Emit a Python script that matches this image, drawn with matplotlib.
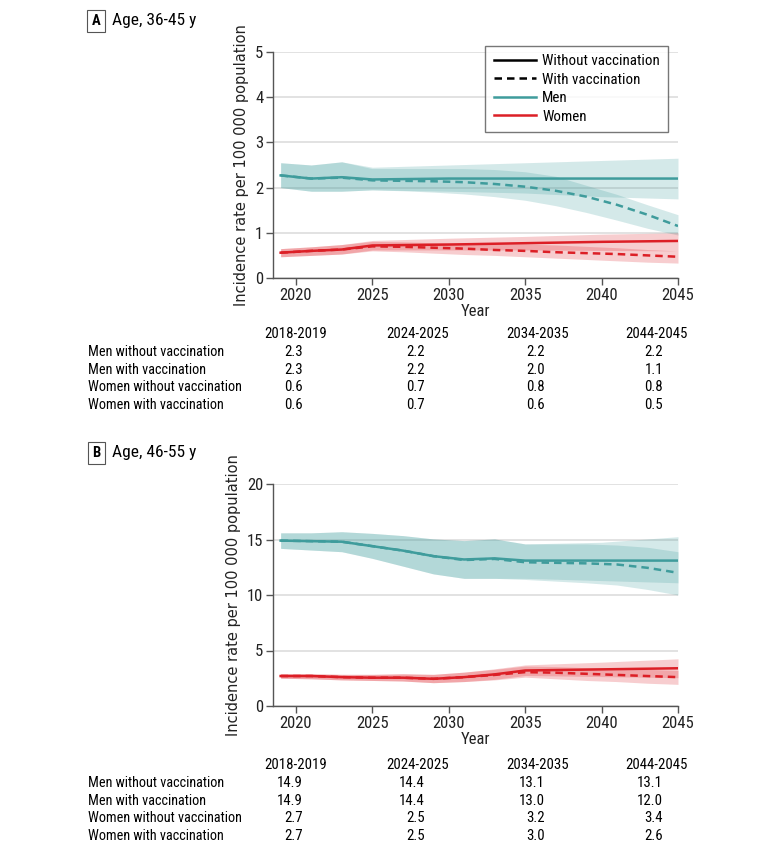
import matplotlib
matplotlib.use("Agg")
import matplotlib.pyplot as plt
from matplotlib.lines import Line2D
from matplotlib.font_manager import fontManager

# pick a condensed sans-serif if one is installed
COND, STRETCH = "Roboto", "normal"
_cands = []
for f in fontManager.ttflist:
    st = str(f.stretch)
    if f.style != 'normal':
        continue
    w = f.weight if isinstance(f.weight, int) else {'normal': 400, 'regular': 400, 'book': 400}.get(str(f.weight), 700)
    if w != 400:
        continue
    if 'Narrow' in f.name or 'Condensed' in f.name or 'condensed' in st:
        _cands.append(f)
_pref = ['Liberation Sans Narrow', 'Roboto Condensed', 'Open Sans Condensed', 'DejaVu Sans']
for p in _pref:
    hit = [f for f in _cands if f.name == p]
    if hit:
        COND, STRETCH = hit[0].name, hit[0].stretch
        break
else:
    if _cands:
        COND, STRETCH = _cands[0].name, _cands[0].stretch
plt.rcParams['font.family'] = [COND, 'DejaVu Sans']
plt.rcParams['font.stretch'] = STRETCH

TEAL = "#3f9c9c"
RED = "#dc1f26"

# ---------------- Panel A data ----------------
a_men_wo_x = [2019, 2021, 2023, 2025, 2030, 2035, 2040, 2045]
a_men_wo_y = [2.27, 2.20, 2.23, 2.18, 2.20, 2.20, 2.20, 2.20]
a_men_wo_lo = [2.00, 1.92, 1.92, 1.95, 1.92, 1.88, 1.80, 1.75]
a_men_wo_hi = [2.55, 2.50, 2.57, 2.45, 2.50, 2.55, 2.60, 2.65]

a_men_w_x = [2019, 2021, 2023, 2025, 2027, 2029, 2031, 2033, 2035, 2037, 2039, 2041, 2043, 2045]
a_men_w_y = [2.27, 2.20, 2.22, 2.16, 2.15, 2.14, 2.12, 2.08, 2.02, 1.93, 1.80, 1.62, 1.40, 1.15]
a_men_w_lo = [2.00, 1.92, 1.92, 1.95, 1.93, 1.90, 1.86, 1.80, 1.72, 1.60, 1.45, 1.28, 1.10, 0.95]
a_men_w_hi = [2.55, 2.50, 2.57, 2.42, 2.42, 2.42, 2.42, 2.40, 2.35, 2.25, 2.05, 1.85, 1.62, 1.40]

a_wom_wo_x = [2019, 2021, 2023, 2025, 2030, 2035, 2040, 2045]
a_wom_wo_y = [0.56, 0.60, 0.63, 0.72, 0.74, 0.77, 0.80, 0.82]
a_wom_wo_lo = [0.47, 0.50, 0.53, 0.62, 0.62, 0.62, 0.61, 0.60]
a_wom_wo_hi = [0.65, 0.69, 0.74, 0.83, 0.88, 0.92, 0.97, 1.00]

a_wom_w_x = [2019, 2021, 2023, 2025, 2027, 2029, 2031, 2033, 2035, 2037, 2039, 2041, 2043, 2045]
a_wom_w_y = [0.56, 0.60, 0.63, 0.70, 0.69, 0.67, 0.65, 0.62, 0.60, 0.57, 0.55, 0.53, 0.50, 0.47]
a_wom_w_lo = [0.47, 0.50, 0.53, 0.60, 0.58, 0.55, 0.52, 0.50, 0.47, 0.44, 0.41, 0.38, 0.35, 0.33]
a_wom_w_hi = [0.65, 0.69, 0.74, 0.81, 0.80, 0.78, 0.77, 0.76, 0.75, 0.73, 0.70, 0.67, 0.63, 0.60]

# ---------------- Panel B data ----------------
b_men_wo_x = [2019, 2021, 2023, 2025, 2027, 2029, 2031, 2033, 2035, 2040, 2045]
b_men_wo_y = [14.9, 14.85, 14.8, 14.4, 14.0, 13.5, 13.2, 13.3, 13.1, 13.1, 13.1]
b_men_wo_lo = [14.2, 14.05, 13.9, 13.3, 12.6, 11.9, 11.5, 11.5, 11.5, 11.3, 11.1]
b_men_wo_hi = [15.6, 15.6, 15.7, 15.55, 15.35, 15.05, 14.9, 15.05, 14.6, 14.75, 15.25]

b_men_w_x = [2019, 2021, 2023, 2025, 2027, 2029, 2031, 2033, 2035, 2037, 2039, 2041, 2043, 2045]
b_men_w_y = [14.9, 14.85, 14.8, 14.4, 14.0, 13.5, 13.15, 13.25, 12.95, 12.9, 12.85, 12.75, 12.45, 12.0]
b_men_w_lo = [14.2, 14.05, 13.9, 13.3, 12.6, 11.9, 11.5, 11.5, 11.4, 11.25, 11.1, 10.9, 10.5, 10.0]
b_men_w_hi = [15.6, 15.6, 15.7, 15.55, 15.35, 15.05, 14.9, 15.05, 14.6, 14.6, 14.6, 14.5, 14.3, 13.9]

b_wom_wo_x = [2019, 2021, 2023, 2025, 2027, 2029, 2031, 2033, 2035, 2040, 2045]
b_wom_wo_y = [2.7, 2.7, 2.6, 2.55, 2.55, 2.45, 2.6, 2.85, 3.2, 3.3, 3.4]
b_wom_wo_lo = [2.5, 2.45, 2.35, 2.3, 2.25, 2.1, 2.2, 2.4, 2.75, 2.65, 2.55]
b_wom_wo_hi = [2.9, 2.9, 2.85, 2.85, 2.9, 2.85, 3.05, 3.35, 3.7, 3.95, 4.25]

b_wom_w_x = [2019, 2021, 2023, 2025, 2027, 2029, 2031, 2033, 2035, 2037, 2039, 2041, 2043, 2045]
b_wom_w_y = [2.7, 2.7, 2.6, 2.55, 2.55, 2.45, 2.6, 2.8, 3.05, 3.0, 2.9, 2.8, 2.7, 2.6]
b_wom_w_lo = [2.5, 2.45, 2.35, 2.3, 2.25, 2.1, 2.2, 2.35, 2.6, 2.45, 2.3, 2.2, 2.05, 1.95]
b_wom_w_hi = [2.9, 2.9, 2.85, 2.85, 2.9, 2.85, 3.05, 3.3, 3.6, 3.55, 3.45, 3.4, 3.3, 3.2]

# ---------------- Tables ----------------
periods = ["2018-2019", "2024-2025", "2034-2035", "2044-2045"]
row_labels = ["Men without vaccination", "Men with vaccination",
              "Women without vaccination", "Women with vaccination"]
table_a = [["2.3", "2.2", "2.2", "2.2"],
           ["2.3", "2.2", "2.0", "1.1"],
           ["0.6", "0.7", "0.8", "0.8"],
           ["0.6", "0.7", "0.6", "0.5"]]
table_b = [["14.9", "14.4", "13.1", "13.1"],
           ["14.9", "14.4", "13.0", "12.0"],
           ["2.7", "2.5", "3.2", "3.4"],
           ["2.7", "2.5", "3.0", "2.6"]]

W, H = 780, 856
fig = plt.figure(figsize=(W / 100, H / 100), dpi=100)

def px_axes(x0, y0, x1, y1):
    return fig.add_axes([x0 / W, 1 - y1 / H, (x1 - x0) / W, (y1 - y0) / H])

FS = 10.5
TFS = 10.3

def style(ax, ymax, ystep):
    ax.set_xlim(2018.5, 2045)
    ax.set_ylim(0, ymax)
    ax.set_xticks([2020, 2025, 2030, 2035, 2040, 2045])
    ax.set_yticks(range(0, ymax + 1, ystep))
    ax.grid(axis='y', color='#dddddd', lw=1.2)
    ax.set_axisbelow(True)
    for s in ['top', 'right']:
        ax.spines[s].set_visible(False)
    for s in ['left', 'bottom']:
        ax.spines[s].set_color('#555555')
        ax.spines[s].set_linewidth(1.0)
    ax.tick_params(axis='both', colors='#555555', labelcolor='#222222',
                   labelsize=FS + 1.5, length=5, width=1.0, pad=2)
    ax.set_xlabel("Year", fontsize=FS + 1.5, color='#222222', labelpad=1)
    ax.set_ylabel("Incidence rate per 100 000 population", fontsize=FS,
                  family='DejaVu Sans', stretch='normal', color='#222222', labelpad=4)

def draw(ax, xs, ys, los, his, color, ls):
    ax.fill_between(xs, los, his, color=color, alpha=0.22, lw=0)
    ax.plot(xs, ys, color=color, lw=1.8, ls=ls,
            dashes=(3, 2) if ls == '--' else (None, None))

def panel_label(letter, title, ytop):
    fig.text(96 / W, 1 - (ytop + 9) / H, letter, fontsize=FS, weight='bold',
             ha='center', va='center',
             bbox=dict(boxstyle='square,pad=0.3', fc='white', ec='#555555', lw=0.8))
    fig.text(112 / W, 1 - (ytop + 9) / H, title, fontsize=FS + 2, va='center')

def table(ytop, data):
    colx = [296, 418, 538, 656]
    for cx, p in zip(colx, periods):
        fig.text(cx / W, 1 - ytop / H, p, fontsize=TFS + 0.4, ha='center', va='center')
    for i, (lab, row) in enumerate(zip(row_labels, data)):
        yy = 1 - (ytop + 17.8 * (i + 1)) / H
        fig.text(88 / W, yy, lab, fontsize=TFS, ha='left', va='center')
        for cx, v in zip(colx, row):
            fig.text((cx + 7) / W, yy, v, fontsize=TFS + 0.4, ha='right', va='center')

# Panel A
axA = px_axes(273, 52, 678, 278)
style(axA, 5, 1)
draw(axA, a_men_wo_x, a_men_wo_y, a_men_wo_lo, a_men_wo_hi, TEAL, '-')
draw(axA, a_men_w_x, a_men_w_y, a_men_w_lo, a_men_w_hi, TEAL, '--')
draw(axA, a_wom_wo_x, a_wom_wo_y, a_wom_wo_lo, a_wom_wo_hi, RED, '-')
draw(axA, a_wom_w_x, a_wom_w_y, a_wom_w_lo, a_wom_w_hi, RED, '--')
handles = [Line2D([], [], color='black', lw=1.8),
           Line2D([], [], color='black', lw=1.8, ls='--', dashes=(3, 2)),
           Line2D([], [], color=TEAL, lw=1.8),
           Line2D([], [], color=RED, lw=1.8)]
leg = axA.legend(handles, ["Without vaccination", "With vaccination", "Men", "Women"],
                 loc='upper right', bbox_to_anchor=(0.976, 1.027), borderaxespad=0,
                 fontsize=FS + 0.3, frameon=True, fancybox=False, edgecolor='#555555',
                 handlelength=2.8, handletextpad=0.45, labelspacing=0.3, borderpad=0.55)
leg.get_frame().set_linewidth(1.0)
panel_label("A", "Age, 36-45 y", 12)
table(334, table_a)

# Panel B
axB = px_axes(273, 484, 678, 706)
style(axB, 20, 5)
draw(axB, b_men_wo_x, b_men_wo_y, b_men_wo_lo, b_men_wo_hi, TEAL, '-')
draw(axB, b_men_w_x, b_men_w_y, b_men_w_lo, b_men_w_hi, TEAL, '--')
draw(axB, b_wom_wo_x, b_wom_wo_y, b_wom_wo_lo, b_wom_wo_hi, RED, '-')
draw(axB, b_wom_w_x, b_wom_w_y, b_wom_w_lo, b_wom_w_hi, RED, '--')
panel_label("B", "Age, 46-55 y", 444)
table(765, table_b)

fig.savefig("out.png", dpi=100)
